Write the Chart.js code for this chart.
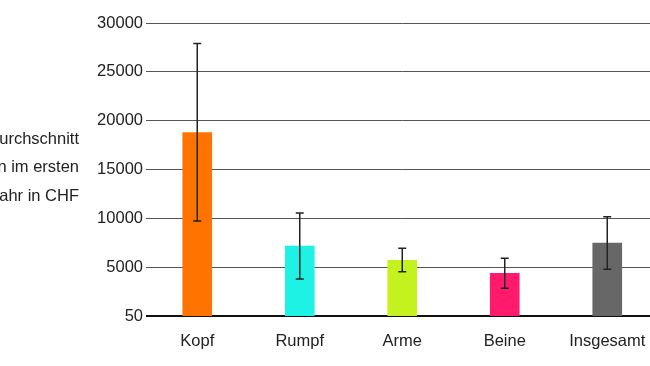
<!DOCTYPE html>
<html>
<head>
<meta charset="utf-8">
<script src="https://cdn.jsdelivr.net/npm/chart.js@4"></script>
<style>
  html, body { margin: 0; padding: 0; background: #fff; overflow: hidden; }
  #wrap { width: 660px; height: 366px; }
</style>
</head>
<body>
<div id="wrap"><canvas id="kosten"></canvas></div>
<script>
// daten
var categories = ['Kopf', 'Rumpf', 'Arme', 'Beine', 'Insgesamt'];
var meanValues = [18800, 7200, 5750, 4400, 7500];
var errLow = [9750, 3830, 4580, 2880, 4820];
var errHigh = [27900, 10580, 6970, 5950, 10200];
var barColors = ['#ff7300', '#1ef2e4', '#c3f21e', '#ff1a6b', '#676767'];
var yTicks = [50, 5000, 10000, 15000, 20000, 25000, 30000];
var axisTitle = ['Im Durchschnitt', 'Heilungskosten im ersten', 'Jahr in CHF'];

var fontFamily = '"Liberation Sans", Arial, sans-serif';

// fehlerbalken über die y-skala zeichnen
var errorBars = {
  id: 'errorBars',
  afterDatasetsDraw: function(chart) {
    var ctx = chart.ctx;
    var yScale = chart.scales.y;
    var meta = chart.getDatasetMeta(0);
    ctx.save();
    ctx.strokeStyle = '#222';
    ctx.lineWidth = 1.5;
    meta.data.forEach(function(bar, i) {
      var x = bar.x;
      var yTop = yScale.getPixelForValue(errHigh[i]);
      var yBot = yScale.getPixelForValue(errLow[i]);
      ctx.beginPath();
      ctx.moveTo(x, yTop); ctx.lineTo(x, yBot);
      ctx.moveTo(x - 4, yTop); ctx.lineTo(x + 4, yTop);
      ctx.moveTo(x - 4, yBot); ctx.lineTo(x + 4, yBot);
      ctx.stroke();
    });
    ctx.restore();
  }
};

// achsentitel links (horizontal, rechtsbündig)
var sideTitle = {
  id: 'sideTitle',
  afterDraw: function(chart) {
    var ctx = chart.ctx;
    ctx.save();
    ctx.font = '16.5px ' + fontFamily;
    ctx.fillStyle = '#222';
    ctx.textAlign = 'right';
    ctx.textBaseline = 'middle';
    axisTitle.forEach(function(line, i) {
      ctx.fillText(line, 79, 139 + i * 28.5);
    });
    ctx.restore();
  }
};

new Chart(document.getElementById('kosten'), {
  type: 'bar',
  data: {
    labels: categories,
    datasets: [{
      data: meanValues,
      backgroundColor: barColors,
      borderWidth: 0,
      barThickness: 29
    }]
  },
  options: {
    responsive: true,
    maintainAspectRatio: false,
    animation: false,
    layout: { padding: { top: 23, right: 1.5, bottom: 13, left: 0 } },
    plugins: {
      legend: { display: false },
      tooltip: { enabled: false }
    },
    scales: {
      x: {
        grid: { display: false },
        border: { display: false },
        afterFit: function(scale) { scale.height = 37; },
        ticks: { color: '#222', padding: 8, font: { family: fontFamily, size: 16.5 } }
      },
      y: {
        min: 50,
        max: 30000,
        afterBuildTicks: function(scale) {
          scale.ticks = yTicks.map(function(v) { return { value: v }; });
        },
        afterFit: function(scale) { scale.width = 146; },
        border: { display: false },
        grid: {
          drawTicks: false,
          color: function(c) { return c.tick && c.tick.value === 50 ? '#111' : '#555'; },
          lineWidth: function(c) { return c.tick && c.tick.value === 50 ? 2 : 1; }
        },
        ticks: {
          color: '#222',
          padding: 3,
          font: { family: fontFamily, size: 16.5 },
          callback: function(v) { return String(v); }
        }
      }
    }
  },
  plugins: [errorBars, sideTitle]
});
</script>
</body>
</html>
